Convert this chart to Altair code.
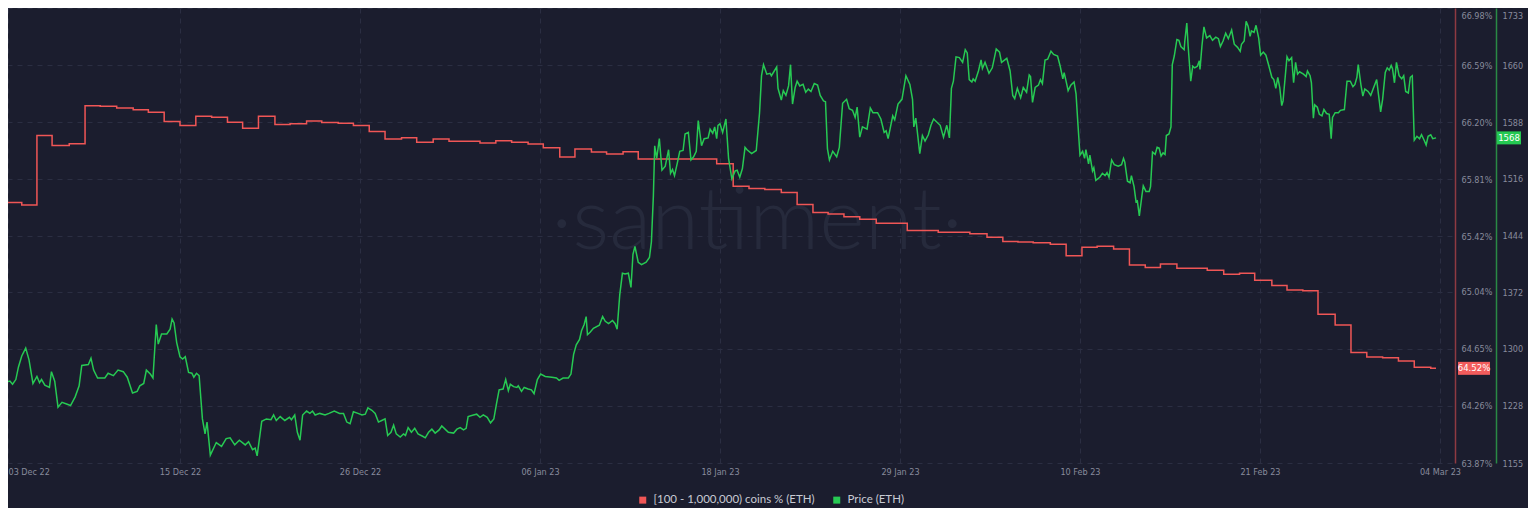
import json
import altair as alt
import pandas as pd

START = "2022-12-03T00:00:00"
RED_NAME = "[100 - 1,000,000) coins % (ETH)"
GREEN_NAME = "Price (ETH)"

# ETH price, hours after 03 Dec 2022 00:00
price_hours = [0, 3, 6, 9, 15, 19, 24, 28, 33, 39, 44, 50, 56, 60, 63, 68, 75, 78, 83, 88, 94,
    101, 107, 114, 120, 124, 134, 138, 142, 148, 159, 164, 172, 179, 187, 193, 201, 208, 212, 218, 222,
    228, 232, 237, 240, 245, 253, 258, 261, 264, 268, 273, 277, 281, 286, 291, 294, 298, 302, 307, 311,
    314, 319, 328, 336, 343, 349, 356, 363,
    372, 377, 383, 387, 390, 397, 404, 411, 415, 419, 425, 432, 439, 442, 447, 451, 455, 459, 465, 470,
    474, 478, 485, 493, 499, 507, 515, 521, 526, 531, 536, 543, 549, 554, 558, 564, 569, 574, 579, 584,
    588, 593, 597, 601, 607, 612, 615, 619, 624, 629, 634, 641, 645, 650, 655, 660, 666, 670, 675, 680,
    688, 693, 698, 703, 707, 710, 718, 723, 728,
    733, 739, 744, 749, 753, 757, 763, 767, 771, 774, 779, 784, 786, 791, 795, 801, 806, 810, 815, 820,
    827, 837, 844, 848, 854, 862, 866, 870, 874, 879, 882, 886, 889, 891, 895, 900, 909, 914, 918, 923,
    929, 933, 936, 940, 944, 948, 953, 957, 960, 963, 968, 973, 980, 985, 988, 991, 993, 996, 1000, 1004,
    1009, 1014, 1017, 1020, 1023, 1027, 1031, 1036, 1039, 1044, 1048, 1052, 1056, 1059, 1064, 1068, 1074,
    1077, 1081, 1084, 1087, 1089, 1092,
    1096, 1101, 1105, 1110, 1115, 1118, 1122, 1126, 1130, 1133, 1140, 1147, 1152, 1155, 1158, 1163, 1168,
    1170, 1178, 1180, 1185, 1188, 1192, 1196, 1199, 1202, 1206, 1209, 1213, 1218, 1222, 1226, 1230, 1235,
    1240, 1244, 1249, 1252, 1255, 1258, 1263, 1269, 1273, 1278, 1284, 1288, 1293, 1297, 1300, 1304, 1308,
    1315, 1320, 1324, 1331, 1336, 1341, 1344, 1347, 1354, 1357, 1362, 1368, 1374, 1380, 1384, 1386, 1389,
    1395, 1399, 1403, 1408, 1412, 1416, 1426, 1431, 1436, 1440, 1443, 1446, 1450, 1455,
    1460, 1464, 1467, 1470, 1474, 1476, 1479, 1484, 1488, 1490, 1494, 1500, 1505, 1511, 1516, 1519, 1527,
    1532, 1536, 1539, 1543, 1548, 1552, 1557, 1561, 1563, 1566, 1570, 1575, 1578, 1581, 1585, 1589, 1594,
    1598, 1604, 1608, 1612, 1614, 1618, 1620, 1624, 1629, 1632, 1635, 1638, 1642, 1645, 1647, 1651, 1653,
    1657, 1659, 1662, 1668, 1672, 1676, 1679, 1682, 1686, 1690, 1696, 1701, 1704, 1706, 1710, 1714, 1716,
    1720, 1723, 1725, 1728, 1732, 1734, 1738, 1743, 1745, 1748, 1752, 1755, 1758, 1761, 1764, 1767, 1769,
    1773, 1776, 1778, 1781, 1785, 1788, 1791, 1796, 1797, 1800, 1802, 1806, 1809, 1812, 1816, 1819,
    1820, 1823, 1826, 1830, 1835, 1839, 1844, 1848, 1851, 1855, 1859, 1863, 1868, 1872, 1877, 1881, 1883,
    1887, 1890, 1893, 1896, 1898, 1902, 1905, 1909, 1912, 1916, 1920, 1924, 1929, 1932, 1935, 1938, 1941,
    1944, 1946, 1952, 1955, 1959, 1962, 1965, 1968, 1971, 1977, 1981, 1983, 1987, 1989, 1992, 1994, 1998,
    2001, 2005, 2008, 2012, 2016, 2019, 2021, 2025, 2030, 2033, 2039, 2043, 2048, 2052, 2055, 2058, 2060,
    2064, 2067, 2070, 2075, 2079, 2083, 2088, 2090, 2094, 2097, 2101, 2104, 2107, 2110, 2112, 2115, 2118,
    2122, 2126, 2129, 2132, 2136, 2139, 2142, 2145, 2149, 2153, 2156, 2160, 2163, 2166, 2170, 2173, 2178]

price_values = [1260, 1264, 1239, 1258, 1259, 1255, 1261, 1277, 1291, 1301, 1286, 1256, 1265, 1257, 1261, 1254,
    1251, 1271, 1259, 1226, 1232, 1230, 1228, 1239, 1253, 1279, 1280, 1288, 1273, 1263, 1263, 1269, 1266,
    1273, 1271, 1264, 1244, 1246, 1253, 1256, 1273, 1268, 1263, 1331, 1306, 1319, 1319, 1325, 1338, 1333,
    1308, 1290, 1287, 1290, 1270, 1269, 1264, 1269, 1266, 1211, 1192, 1207, 1165, 1181, 1176, 1186, 1187,
    1178, 1184,
    1178, 1182, 1172, 1174, 1164, 1208, 1211, 1210, 1216, 1209, 1214, 1209, 1213, 1210, 1216, 1194, 1184,
    1216, 1221, 1218, 1221, 1216, 1218, 1216, 1218, 1221, 1218, 1218, 1207, 1205, 1220, 1218, 1216, 1217,
    1225, 1222, 1218, 1207, 1209, 1211, 1190, 1194, 1203, 1192, 1188, 1192, 1190, 1200, 1194, 1199, 1192,
    1189, 1187, 1194, 1198, 1193, 1197, 1202, 1198, 1194, 1193, 1198, 1200, 1197, 1199, 1214, 1216, 1217,
    1213,
    1216, 1213, 1206, 1211, 1230, 1248, 1249, 1261, 1247, 1255, 1252, 1251, 1253, 1246, 1251, 1249, 1248,
    1243, 1261, 1268, 1265, 1264, 1263, 1260, 1263, 1263, 1268, 1293, 1305, 1312, 1323, 1331, 1341, 1318,
    1321, 1326, 1330, 1341, 1335, 1332, 1336, 1332, 1325, 1369, 1396, 1395, 1396, 1378, 1420, 1430, 1410,
    1407, 1410, 1416, 1436, 1495, 1558, 1542, 1567, 1527, 1532, 1553, 1523, 1528, 1520, 1535, 1551, 1552,
    1573, 1575, 1540, 1544, 1551, 1590, 1558, 1567, 1568, 1579, 1574, 1582, 1567, 1584, 1586,
    1575, 1592, 1542, 1516, 1526, 1527, 1518, 1529, 1556, 1553, 1548, 1552, 1600, 1647, 1661, 1649, 1650,
    1647, 1658, 1631, 1616, 1628, 1622, 1634, 1661, 1611, 1632, 1640, 1634, 1636, 1626, 1630, 1627, 1637,
    1635, 1622, 1615, 1614, 1554, 1540, 1551, 1544, 1556, 1612, 1617, 1605, 1603, 1594, 1607, 1569, 1582,
    1579, 1606, 1600, 1600, 1592, 1575, 1577, 1567, 1596, 1591, 1611, 1617, 1647, 1636, 1617, 1582, 1593,
    1548, 1571, 1564, 1572, 1584, 1592, 1584, 1569, 1584, 1568, 1631, 1640, 1671, 1670,
    1664, 1680, 1676, 1642, 1639, 1643, 1640, 1653, 1667, 1656, 1664, 1650, 1657, 1681, 1677, 1664, 1669,
    1653, 1622, 1618, 1631, 1619, 1632, 1626, 1648, 1646, 1613, 1632, 1635, 1642, 1637, 1667, 1668, 1678,
    1674, 1672, 1659, 1643, 1651, 1636, 1628, 1635, 1639, 1624, 1584, 1546, 1551, 1542, 1553, 1535, 1546,
    1526, 1530, 1514, 1518, 1523, 1520, 1524, 1518, 1540, 1534, 1532, 1534, 1542, 1537, 1513, 1511, 1520,
    1506, 1487, 1488, 1469, 1495, 1507, 1500, 1500, 1506, 1550, 1547, 1556, 1555, 1545, 1549, 1547, 1571,
    1573, 1582, 1661, 1672, 1693, 1692, 1684, 1680, 1691, 1714, 1685, 1640, 1659, 1657, 1659, 1666,
    1655, 1685, 1709, 1695, 1698, 1692, 1696, 1694, 1684, 1691, 1701, 1694, 1705, 1687, 1683, 1678, 1687,
    1691, 1716, 1710, 1697, 1704, 1702, 1711, 1695, 1673, 1677, 1673, 1661, 1645, 1642, 1631, 1645, 1632,
    1609, 1615, 1671, 1666, 1670, 1638, 1664, 1649, 1652, 1649, 1646, 1653, 1647, 1638, 1593, 1610, 1607,
    1598, 1596, 1604, 1599, 1598, 1567, 1594, 1600, 1600, 1603, 1604, 1640, 1640, 1633, 1636, 1645, 1661,
    1636, 1621, 1630, 1627, 1622, 1631, 1642, 1628, 1601, 1617, 1651, 1657, 1654, 1660, 1656, 1638, 1664,
    1647, 1643, 1647, 1627, 1625, 1645, 1647, 1565, 1570, 1567, 1572, 1565, 1559, 1570, 1572, 1567, 1568]

# Share of supply held by [100 - 1,000,000) coin addresses (%), hours after start
share_hours = [0, 33, 56, 79, 105, 129, 152, 177, 202, 225, 249, 273, 297, 321, 345, 368, 392, 417, 440,
    465, 488, 513, 536, 560, 584, 609, 632, 657, 681, 728, 752, 776, 801, 824, 849, 872, 897, 920, 945,
    968, 1087, 1112, 1136, 1160, 1185, 1209, 1233, 1256, 1280, 1304, 1329, 1376, 1423, 1471, 1497, 1521,
    1544, 1567, 1593, 1617, 1641, 1664, 1689, 1713, 1737, 1760, 1785, 1831, 1856, 1880, 1903, 1929, 1952,
    1976, 1999, 2025, 2049, 2073, 2097, 2121, 2145, 2170, 2178]
share_values = [65.651, 65.633, 66.109, 66.041, 66.052, 66.312, 66.308, 66.296, 66.285, 66.267, 66.204,
    66.177, 66.240, 66.233, 66.199, 66.158, 66.240, 66.183, 66.188, 66.208, 66.197, 66.192, 66.177, 66.136,
    66.084, 66.093, 66.063, 66.084, 66.070, 66.057, 66.072, 66.063, 66.050, 66.025, 65.961, 66.016, 65.995,
    65.982, 65.997, 65.948, 65.916, 65.762, 65.746, 65.739, 65.719, 65.637, 65.583, 65.572, 65.554, 65.536,
    65.508, 65.459, 65.447, 65.437, 65.413, 65.384, 65.380, 65.375, 65.366, 65.287, 65.344, 65.352, 65.332,
    65.223, 65.206, 65.230, 65.201, 65.187, 65.160, 65.167, 65.119, 65.083, 65.052, 65.047, 64.887, 64.814,
    64.626, 64.595, 64.590, 64.567, 64.524, 64.517, 64.517]

x_tick_times = ["2022-12-03T12:08", "2022-12-14T09:00", "2022-12-25T18:00", "2023-01-06T03:00",
                "2023-01-17T12:00", "2023-01-28T21:00", "2023-02-09T06:00", "2023-02-20T15:00",
                "2023-03-04T00:00"]
x_tick_labels = ["03 Dec 22", "15 Dec 22", "26 Dec 22", "06 Jan 23", "18 Jan 23", "29 Jan 23",
                 "10 Feb 23", "21 Feb 23", "04 Mar 23"]
x_range = ["2022-12-03T12:08", "2023-03-04T18:14"]
share_ticks = [63.87, 64.26, 64.65, 65.04, 65.42, 65.81, 66.20, 66.59, 66.98]
price_ticks = [1155, 1228, 1300, 1372, 1444, 1516, 1588, 1660, 1733]

BG = "#1b1d2e"
RED = "#f05656"
GREEN = "#27c953"
GRID = "#2b2e42"
LABEL = "#888b9c"
FONT = "Lato"
AXFONT = "Liberation Sans Narrow, DejaVu Sans Condensed, Roboto Condensed, Lato, sans-serif"
AXSIZE = 9

t0 = pd.Timestamp(START)
share_df = pd.DataFrame({"t": t0 + pd.to_timedelta(share_hours, unit="h"), "v": share_values})
price_df = pd.DataFrame({"t": t0 + pd.to_timedelta(price_hours, unit="h"), "v": price_values})
share_last = pd.DataFrame({"v": [share_values[-1]], "label": [f"{share_values[-1]:.2f}%"]})
price_last = pd.DataFrame({"v": [price_values[-1]], "label": [f"{price_values[-1]}"]})
legend_df = pd.DataFrame({"series": [RED_NAME, GREEN_NAME]})


def dt(s):
    p = pd.Timestamp(s)
    return alt.DateTime(year=p.year, month=p.month, date=p.day, hours=p.hour, minutes=p.minute)


keys = [pd.Timestamp(s).strftime("%m%d") for s in x_tick_times]
label_expr = f"{json.dumps(x_tick_labels)}[indexof({json.dumps(keys)}, timeFormat(datum.value, '%m%d'))]"

x_axis = alt.Axis(values=[dt(s) for s in x_tick_times], labelExpr=label_expr, grid=True,
                  gridColor=GRID, gridDash=[5, 5], domain=False, ticks=False, tickSize=0,
                  labelPadding=4, labelFlush=1, labelOverlap=False, labelColor=LABEL,
                  labelFontSize=AXSIZE, labelFont=AXFONT, title=None)
x_scale = alt.Scale(domain=[dt(s) for s in x_range])
x_enc = alt.X("t:T", scale=x_scale, axis=x_axis)

red_scale = alt.Scale(domain=[63.87, 66.98], nice=False, zero=False)
green_scale = alt.Scale(domain=[1155, 1733], nice=False, zero=False)

red_y = alt.Y("v:Q", scale=red_scale,
              axis=alt.Axis(orient="right", offset=3, values=share_ticks,
                            labelExpr="format(datum.value, '.2f') + '%'", grid=True, gridColor=GRID,
                            gridDash=[5, 5], ticks=False, tickSize=0, domainColor="#8e3a42",
                            domainWidth=1.5, labelPadding=6, labelColor=LABEL, labelFontSize=AXSIZE,
                            labelFont=AXFONT, title=None,
                            labelOffset={"condition": {"test": "datum.value > 66.9", "value": 7},
                                         "value": 0}))
green_y = alt.Y("v:Q", scale=green_scale,
                axis=alt.Axis(orient="right", offset=44, values=price_ticks, format="d", grid=False,
                              ticks=False, tickSize=0, domainColor="#2a8a45", domainWidth=1.5,
                              labelPadding=6, labelColor=LABEL, labelFontSize=AXSIZE, labelFont=AXFONT,
                              title=None,
                              labelOffset={"condition": {"test": "datum.value > 1700", "value": 7},
                                           "value": 0}))

watermark = alt.Chart(pd.DataFrame({"w": [1]})).mark_text(
    text="\u00b7santiment\u00b7", font=FONT, fontSize=87, fontWeight=300, color="#262a3c",
    align="center", baseline="middle").encode(x=alt.value(749), y=alt.value(215))

legend_layer = alt.Chart(legend_df).mark_point(filled=True, shape="square", opacity=0).encode(
    color=alt.Color("series:N", scale=alt.Scale(domain=[RED_NAME, GREEN_NAME], range=[RED, GREEN]),
                    legend=alt.Legend(orient="none", legendX=629, legendY=486, direction="horizontal",
                                      title=None, symbolType="square", symbolSize=49,
                                      symbolOpacity=1, symbolStrokeWidth=0, labelFontSize=11.5,
                                      labelColor="#c8cad3", labelFont=FONT, columnPadding=16,
                                      labelOffset=5, labelLimit=0)))

red_line = alt.Chart(share_df).mark_line(color=RED, strokeWidth=1.5, interpolate="step-after").encode(
    x=x_enc, y=red_y)
red_badge = alt.Chart(share_last).mark_point(
    shape="M-2.46,-1H2.46V1H-2.46Z", filled=True, opacity=1, color="#f25c5c", size=169,
    strokeWidth=0).encode(x=alt.value(1466), y=alt.Y("v:Q", scale=red_scale, axis=None))
red_text = alt.Chart(share_last).mark_text(color="white", fontSize=9.5, font=AXFONT, align="center",
                                           baseline="middle").encode(
    x=alt.value(1466), y=alt.Y("v:Q", scale=red_scale, axis=None), text="label:N")

green_line = alt.Chart(price_df).mark_line(color=GREEN, strokeWidth=1.5).encode(
    x=x_enc, y=green_y)
green_badge = alt.Chart(price_last).mark_point(
    shape="M-1.85,-1H1.85V1H-1.85Z", filled=True, opacity=1, color="#25c952", size=169,
    strokeWidth=0).encode(x=alt.value(1501), y=alt.Y("v:Q", scale=green_scale, axis=None))
green_text = alt.Chart(price_last).mark_text(color="white", fontSize=9.5, font=AXFONT, align="center",
                                             baseline="middle").encode(
    x=alt.value(1501), y=alt.Y("v:Q", scale=green_scale, axis=None), text="label:N")

chart = alt.layer(
    watermark, legend_layer, red_line, green_line, red_badge, red_text, green_badge, green_text
).resolve_scale(y="independent").properties(
    width=1444, height=455, background=BG,
    autosize=alt.AutoSizeParams(type="none"),
    padding={"left": 0, "top": 0, "right": 76, "bottom": 45},
).configure_view(stroke=None)

chart.save("out.html", embed_options={"renderer": "svg", "actions": False})
